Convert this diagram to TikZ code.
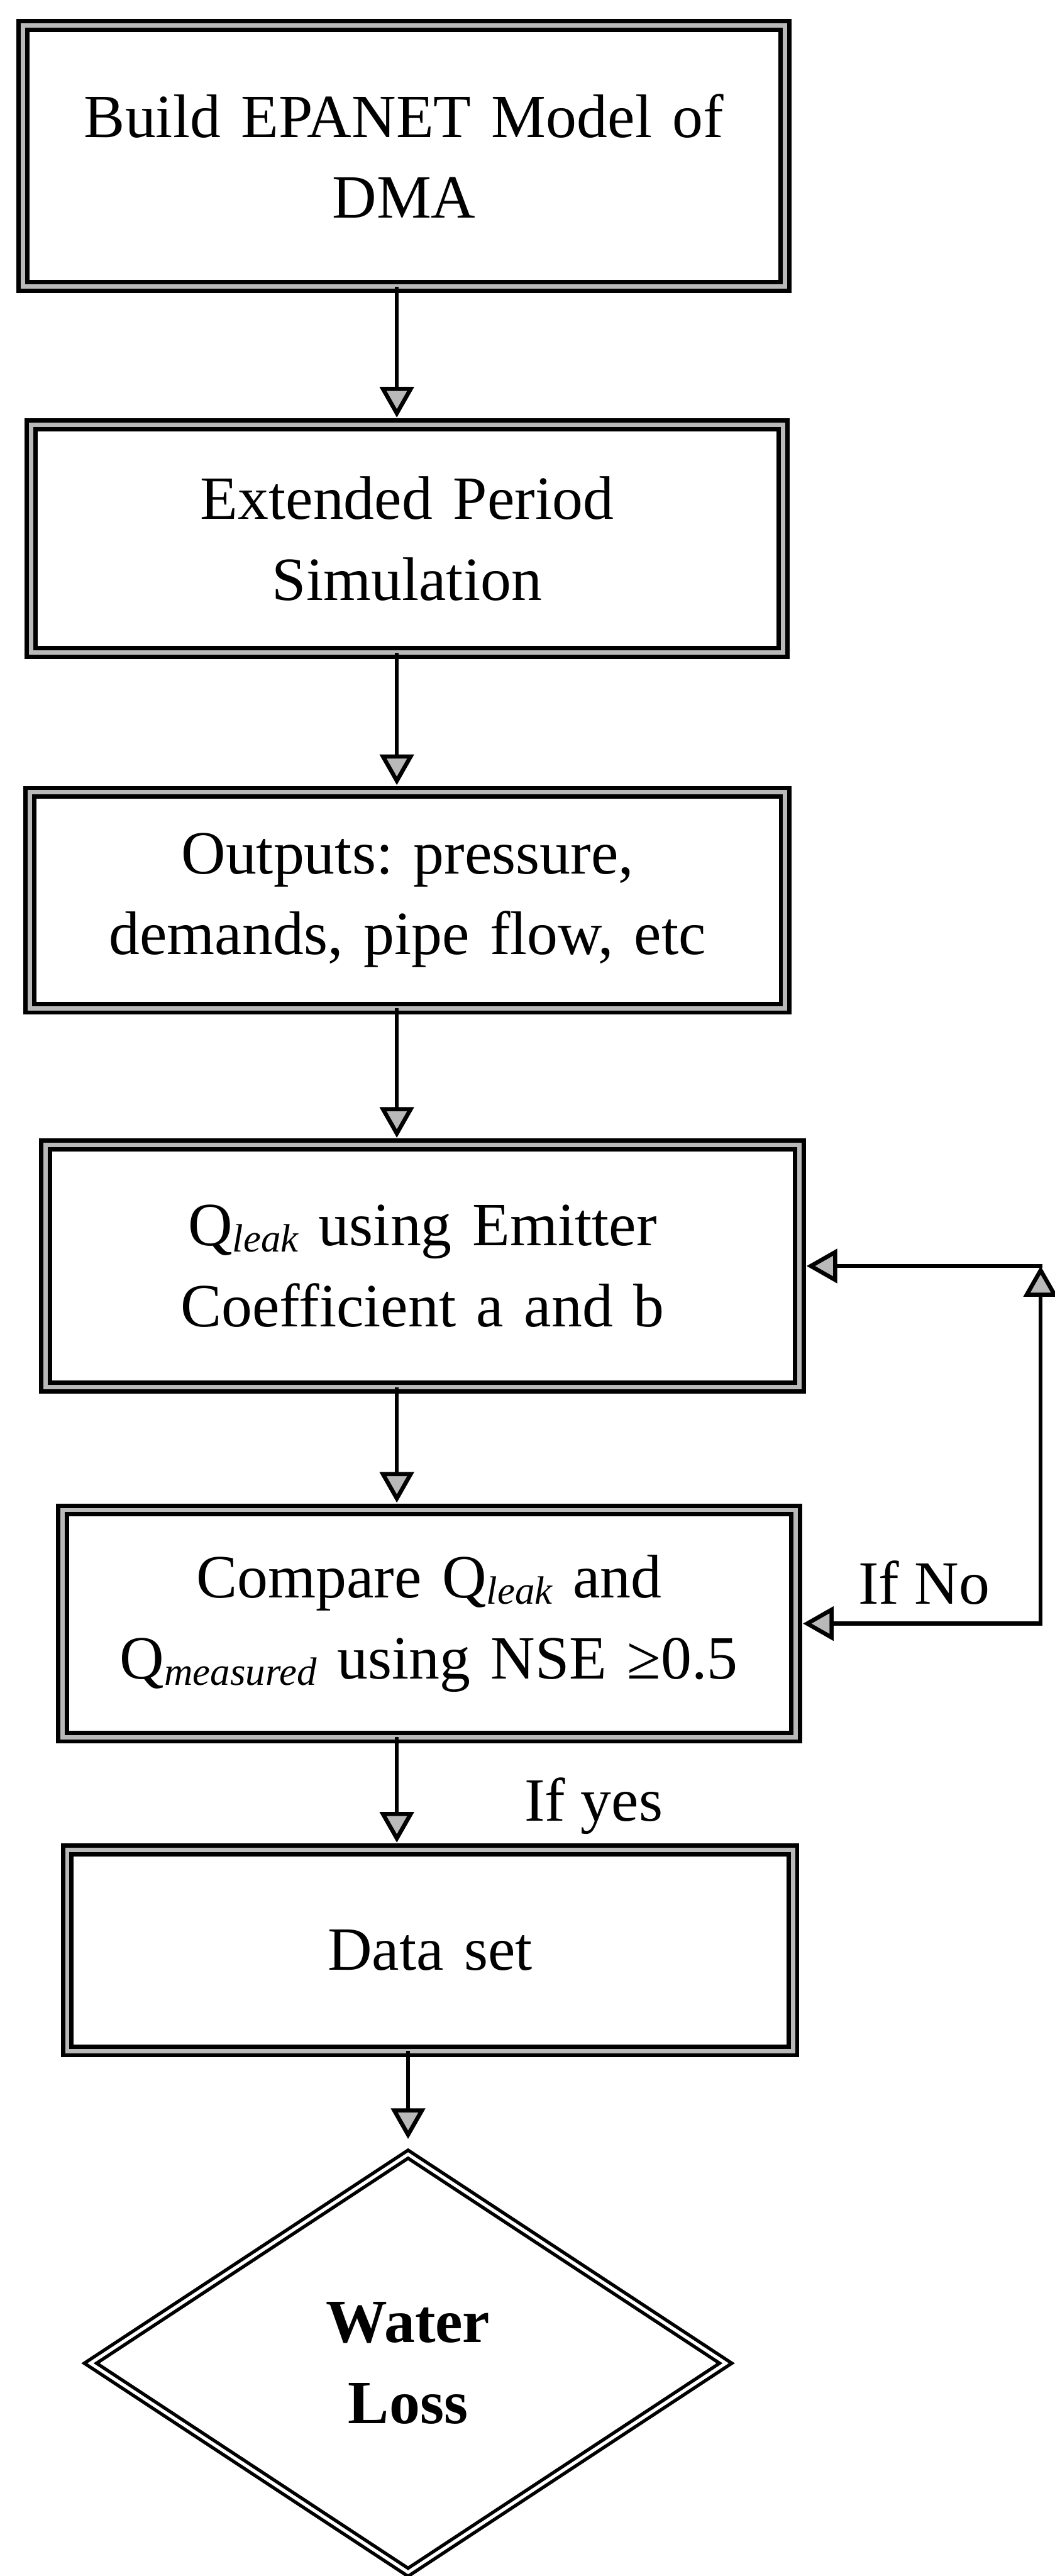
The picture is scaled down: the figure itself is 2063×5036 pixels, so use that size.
\documentclass[tikz,border=0pt]{standalone}
\usepackage{fontspec}
\setmainfont{Liberation Serif}
\usetikzlibrary{arrows.meta,positioning,shapes.geometric}
\frenchspacing
\newcommand{\flowfont}{\fontsize{34.2}{45}\selectfont}
\newcommand{\qsub}[1]{\raisebox{-3.5pt}{\fontsize{22}{22}\selectfont\itshape #1}}
\tikzset{
  stepbox/.style={rectangle,draw=black,line width=2.4pt,double=gray!55,double distance=2.4pt,
    inner sep=0pt,text width=138mm,align=center,font=\flowfont},
  endbox/.style={diamond,draw=black,line width=1.9pt,double=white,double distance=1.8pt,
    inner sep=0pt,minimum width=124.5mm,minimum height=82mm,align=center,font=\flowfont\bfseries},
  flow/.style={draw=black,line width=2.3pt,line cap=rect,shorten >=1mm,
    -{Triangle[length=6mm,width=6.6mm,fill=gray!55]}},
  lbl/.style={font=\flowfont,inner sep=0pt}}

\begin{document}
\begin{tikzpicture}[x=0.1mm,y=-0.1mm]
\useasboundingbox (0,0) rectangle (2063,5036);
\node[stepbox,minimum width=149mm,minimum height=51mm] (build) at (790,305) {Build EPANET Model of\\DMA};
\node[stepbox,minimum width=147mm,minimum height=44.5mm] (eps) at (796,1053) {Extended Period\\Simulation};
\node[stepbox,minimum width=147.7mm,minimum height=42.2mm] (outs) at (797,1760) {Outputs: pressure,\\demands, pipe flow, etc};
\node[stepbox,minimum width=147.4mm,minimum height=47.3mm] (qleak) at (826,2475) {Q\qsub{leak} using Emitter\\Coefficient a and b};
\node[stepbox,minimum width=143.4mm,minimum height=44.4mm] (comp) at (839,3174) {Compare Q\qsub{leak} and\\Q\qsub{measured} using NSE ≥0.5};
\node[stepbox,minimum width=141.9mm,minimum height=39.3mm] (data) at (841,3813) {Data set};
\node[endbox] (loss) at (798,4620) {Water\\Loss};
\node[lbl,anchor=base west] (ifyes) at (1025,3560) {If yes};
\node[lbl,anchor=base west] (ifno) at (1678,3136) {If No};
% main column
\coordinate (spine) at (776,0);
\coordinate (rail) at (2035,0);
\draw[flow] (build.south -| spine) -- (eps.north -| spine);
\draw[flow] (eps.south -| spine) -- (outs.north -| spine);
\draw[flow] (outs.south -| spine) -- (qleak.north -| spine);
\draw[flow] (qleak.south -| spine) -- (comp.north -| spine);
\draw[flow] (comp.south -| spine) -- (data.north -| spine);
\draw[flow,shorten >=2.5mm] (data.south -| loss.north) -- (loss.north);
% feedback loop
\draw[flow] (comp.east -| rail) -- (comp.east);
\draw[flow,shorten >=0pt] (comp.east -| rail) -- (qleak.east -| rail);
\draw[flow] (qleak.east -| rail) -- (qleak.east);
\end{tikzpicture}
\end{document}
